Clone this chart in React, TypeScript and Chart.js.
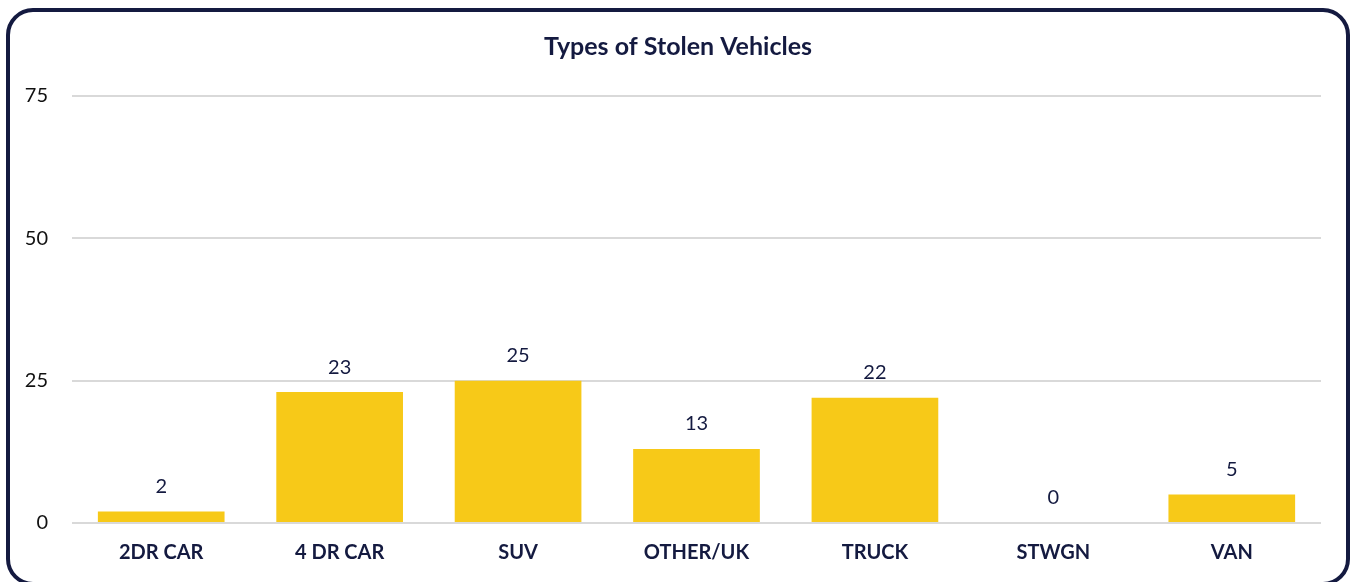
import React, { useEffect, useRef } from "react";
import { Chart, registerables } from "chart.js";

Chart.register(...registerables);

const categories = ["2DR CAR", "4 DR CAR", "SUV", "OTHER/UK", "TRUCK", "STWGN", "VAN"];
const stolenCounts = [2, 23, 25, 13, 22, 0, 5];
const yTicks = [0, 25, 50, 75];
const chartTitle = "Types of Stolen Vehicles";

const NAVY = "#141A40";
const BAR = "#F7C918";
const FONT = "Lato, 'Open Sans', sans-serif";

const labelPlugin = {
  id: "barLabels",
  afterDatasetsDraw(chart: any) {
    const ctx = chart.ctx;
    const meta = chart.getDatasetMeta(0);
    ctx.save();
    ctx.font = `20px ${FONT}`;
    ctx.fillStyle = NAVY;
    ctx.textAlign = "center";
    ctx.textBaseline = "middle";
    meta.data.forEach((el: any, i: number) => {
      ctx.fillText(String(stolenCounts[i]), el.x, el.y - 25);
    });
    ctx.restore();
  },
};

const titlePlugin = {
  id: "customTitle",
  afterDraw(chart: any) {
    const ctx = chart.ctx;
    ctx.save();
    ctx.font = `bold 25px ${FONT}`;
    ctx.fillStyle = NAVY;
    ctx.textAlign = "center";
    ctx.textBaseline = "middle";
    ctx.fillText(chartTitle, 678, 47);
    ctx.restore();
  },
};

export default function App() {
  const ref = useRef<HTMLCanvasElement>(null);
  useEffect(() => {
    if (!ref.current) return;
    const chart = new Chart(ref.current, {
      type: "bar",
      data: {
        labels: categories,
        datasets: [
          {
            data: stolenCounts,
            backgroundColor: BAR,
            barPercentage: 0.71,
            categoryPercentage: 1,
          },
        ],
      },
      options: {
        animation: false,
        responsive: false,
        maintainAspectRatio: false,
        layout: { padding: { top: 96, right: 30, left: 0, bottom: 0 } },
        plugins: { legend: { display: false }, tooltip: { enabled: false }, title: { display: false } },
        scales: {
          x: {
            grid: { display: false, drawTicks: false },
            border: { display: false },
            ticks: {
              color: NAVY,
              font: { family: FONT, size: 20, weight: "bold" },
              padding: 18,
              maxRotation: 0,
            },
            afterFit(scale: any) {
              scale.height = 59;
            },
          },
          y: {
            min: 0,
            max: 75,
            afterBuildTicks(scale: any) {
              scale.ticks = yTicks.map((v) => ({ value: v }));
            },
            grid: { color: "#D9D9D9", lineWidth: 2, drawTicks: false },
            border: { display: false },
            ticks: {
              color: "#111111",
              font: { family: FONT, size: 20 },
              padding: 24,
            },
            afterFit(scale: any) {
              scale.width = 72;
            },
          },
        },
      },
      plugins: [labelPlugin, titlePlugin],
    });
    return () => chart.destroy();
  }, []);

  return (
    <div style={{ position: "fixed", left: 0, top: 0, width: 1351, height: 582, background: "#fff", overflow: "hidden" }}>
      <canvas ref={ref} width={1351} height={582} style={{ position: "absolute", left: 0, top: 0 }} />
      <div
        style={{
          position: "absolute",
          left: 6,
          top: 8,
          width: 1344,
          height: 578,
          boxSizing: "border-box",
          border: `4px solid ${NAVY}`,
          borderRadius: 27,
          pointerEvents: "none",
        }}
      />
    </div>
  );
}
